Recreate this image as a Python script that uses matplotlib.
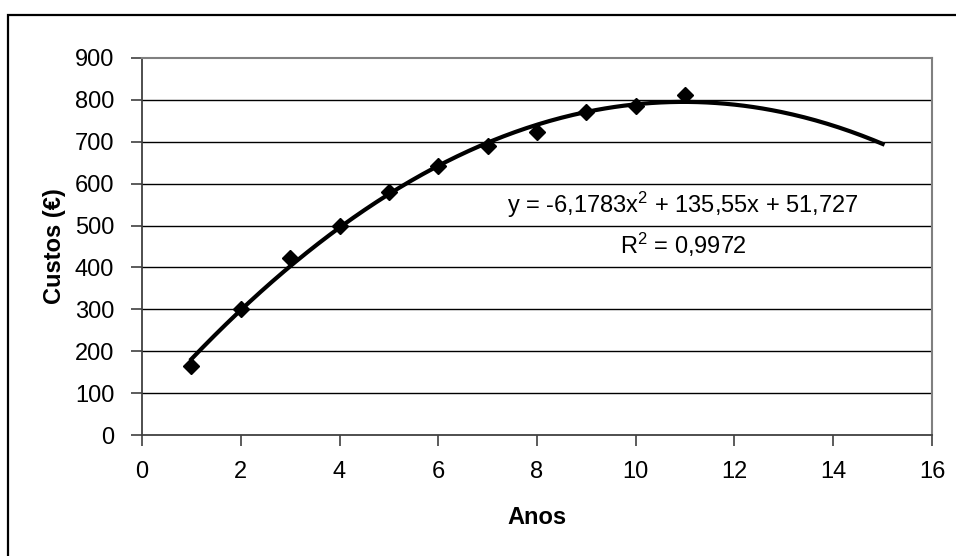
import numpy as np
import matplotlib
matplotlib.use("Agg")
import matplotlib.pyplot as plt
from matplotlib.patches import Rectangle

plt.rcParams['font.family'] = ['Liberation Sans', 'DejaVu Sans']
plt.rcParams['mathtext.fontset'] = 'custom'
plt.rcParams['mathtext.rm'] = 'Liberation Sans'
plt.rcParams['mathtext.it'] = 'Liberation Sans'
plt.rcParams['mathtext.default'] = 'rm'

# Data
anos = [1, 2, 3, 4, 5, 6, 7, 8, 9, 10, 11]
custos = [165, 300, 423, 500, 580, 643, 690, 724, 771, 786, 811]
trend_coefs = [-6.1783, 135.55, 51.727]
trend_range = [1, 15]
x_ticks = [0, 2, 4, 6, 8, 10, 12, 14, 16]
y_ticks = [0, 100, 200, 300, 400, 500, 600, 700, 800, 900]
eq_text = "y = -6,1783x$^{2}$ + 135,55x + 51,727"
r2_text = "R$^{2}$ = 0,9972"

FS = 17
W, H = 956, 556
fig = plt.figure(figsize=(W / 100, H / 100), dpi=100)
fig.patch.set_facecolor('white')

# outer chart frame (extends beyond right/bottom edges)
fig.patches.append(Rectangle((8 / W, -0.1), 1.2, 1 - 15 / H + 0.1,
                             transform=fig.transFigure, fill=False,
                             edgecolor='black', linewidth=1.6, zorder=0))

ax = fig.add_axes([142 / W, 1 - 435 / H, (932 - 142) / W, (435 - 58) / H])
ax.set_xlim(0, 16)
ax.set_ylim(0, 900)
ax.set_xticks(x_ticks)
ax.set_yticks(y_ticks)

for y in y_ticks[1:-1]:
    ax.axhline(y, color='black', linewidth=1.0, zorder=1)

xs = np.linspace(trend_range[0], trend_range[1], 300)
ax.plot(xs, np.polyval(trend_coefs, xs), color='black', linewidth=3.0, zorder=3)
ax.plot(anos, custos, linestyle='none', marker='D', markersize=8.5,
        color='black', zorder=4)

for s in ['top', 'right']:
    ax.spines[s].set_color('#808080')
    ax.spines[s].set_linewidth(1.5)
for s in ['left', 'bottom']:
    ax.spines[s].set_color('#404040')
    ax.spines[s].set_linewidth(1.3)

ax.tick_params(axis='both', direction='out', length=8, width=1.2,
               color='#404040', labelsize=FS)
ax.tick_params(axis='y', pad=12)
ax.tick_params(axis='x', pad=11)

ax.set_xlabel('Anos', fontsize=FS, fontweight='bold', labelpad=16)
ax.set_ylabel('Custos (€)', fontsize=FS, fontweight='bold', labelpad=6)

fig.text(683 / W, 1 - 205 / H, eq_text, fontsize=FS, ha='center', va='center')
fig.text(683 / W, 1 - 245 / H, r2_text, fontsize=FS, ha='center', va='center')

fig.savefig('out.png', dpi=100, facecolor='white')
